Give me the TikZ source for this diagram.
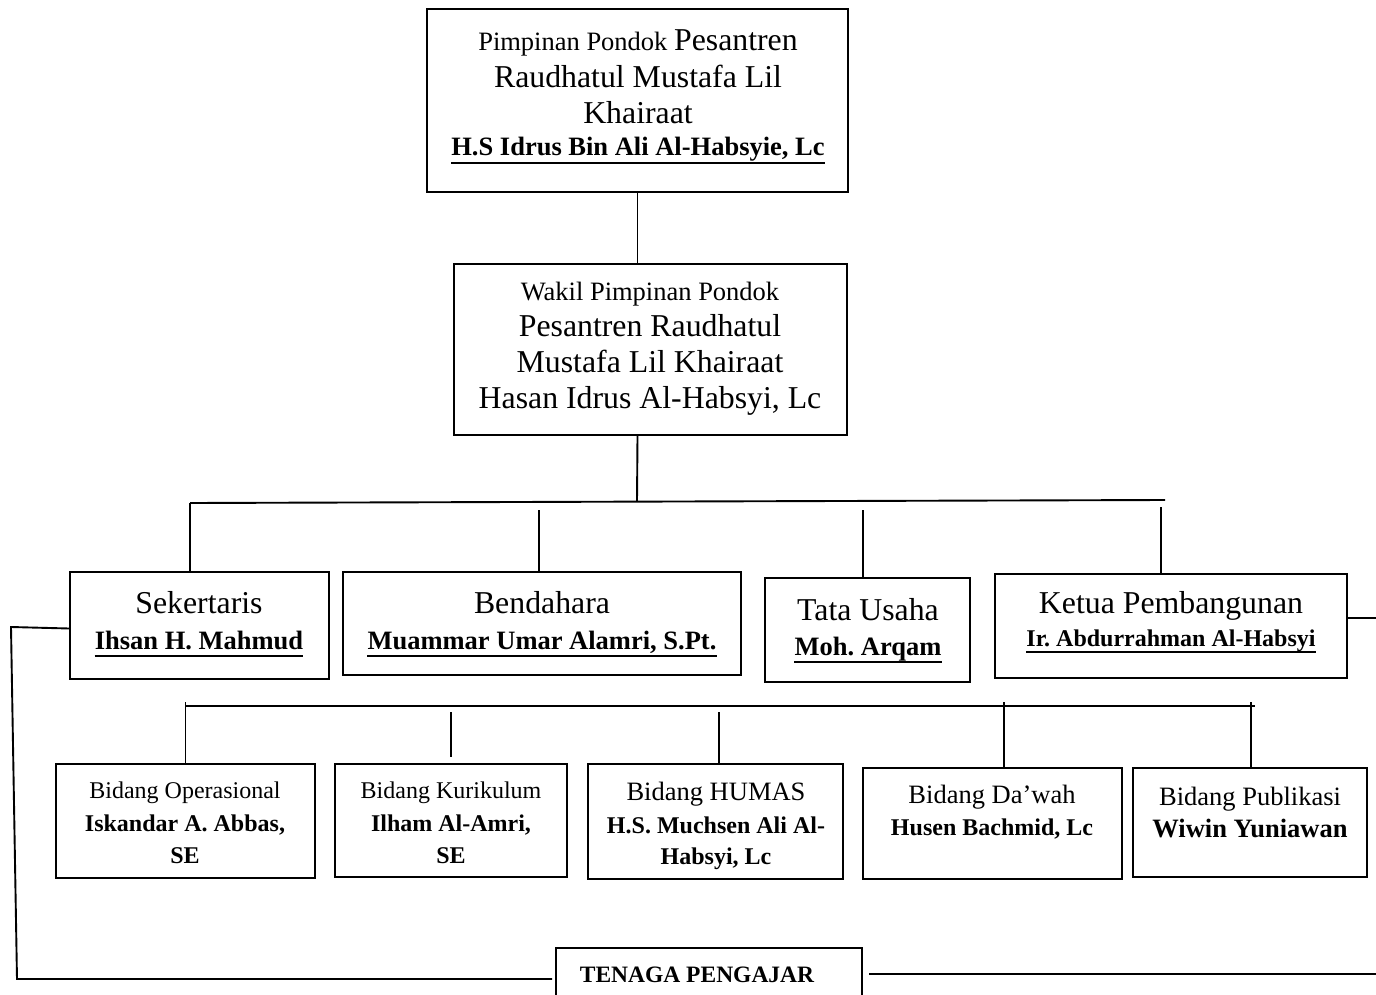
\documentclass[tikz,border=0pt]{standalone}
\usepackage{fontspec}
\setmainfont{Liberation Serif}
\frenchspacing
\newcommand\fsA{\fontsize{26.5}{30}\selectfont}
\newcommand\fsB{\fontsize{31.8}{36}\selectfont}
\newcommand\fsC{\fontsize{24}{28}\selectfont}
\newcommand\fsD{\fontsize{23.5}{28}\selectfont}
\begin{document}
\begin{tikzpicture}[x=1pt,y=-1pt,
  box/.style={draw, line width=2pt, inner sep=0pt},
  txt/.style={inner sep=0pt, anchor=base, align=center},
  conn/.style={line width=1.9pt},
  ulline/.style={line width=2.4pt}]
\clip (0,0) rectangle (1376,995);
\fill[white] (0,0) rectangle (1376,995);

% boxes
\node[box, minimum width=421, minimum height=183] (top) at (637.5,100.5) {};
\node[box, minimum width=393, minimum height=171] (wakil) at (650.5,349.5) {};
\node[box, minimum width=259, minimum height=107] (sek) at (199.5,625.5) {};
\node[box, minimum width=398, minimum height=103] (ben) at (542,623.5) {};
\node[box, minimum width=205, minimum height=104] (tata) at (867.5,630) {};
\node[box, minimum width=352, minimum height=104] (ketua) at (1171,626) {};
\node[box, minimum width=259, minimum height=114] (b1) at (185.5,821) {};
\node[box, minimum width=232, minimum height=113] (b2) at (451,820.5) {};
\node[box, minimum width=255, minimum height=115] (b3) at (715.5,821.5) {};
\node[box, minimum width=259, minimum height=111] (b4) at (992.5,823.5) {};
\node[box, minimum width=234, minimum height=109] (b5) at (1250,822.5) {};
\node[box, minimum width=306, minimum height=62] (tenaga) at (709,979) {};

% texts: top
\node[txt] (t1a) at (638,51) {\fsA Pimpinan Pondok \fsB Pesantren};
\node[txt] (t1b) at (638,88) {\fsB Raudhatul Mustafa Lil};
\node[txt] (t1c) at (638,124) {\fsB Khairaat};
\node[txt] (t1d) at (638,156) {\fsA\bfseries H.S Idrus Bin Ali Al-Habsyie, Lc};
\draw[ulline] ([yshift=-7pt]t1d.base west) -- ([yshift=-7pt]t1d.base east);

% wakil
\node[txt] (t2a) at (650,300) {\fsA Wakil Pimpinan Pondok};
\node[txt] (t2b) at (650,336) {\fsB Pesantren Raudhatul};
\node[txt] (t2c) at (650,372) {\fsB Mustafa Lil Khairaat};
\node[txt] (t2d) at (650,408) {\fsB Hasan Idrus Al-Habsyi, Lc};

% level 2
\node[txt] (t3a) at (199,613) {\fsB Sekertaris};
\node[txt] (t3b) at (199,649) {\fsA\bfseries Ihsan H. Mahmud};
\draw[ulline] ([yshift=-7pt]t3b.base west) -- ([yshift=-7pt]t3b.base east);
\node[txt] (t4a) at (542,613) {\fsB Bendahara};
\node[txt] (t4b) at (542,649) {\fsA\bfseries Muammar Umar Alamri, S.Pt.};
\draw[ulline] ([yshift=-7pt]t4b.base west) -- ([yshift=-7pt]t4b.base east);
\node[txt] (t5a) at (868,620) {\fsB Tata Usaha};
\node[txt] (t5b) at (868,655) {\fsA\bfseries Moh. Arqam};
\draw[ulline] ([yshift=-7pt]t5b.base west) -- ([yshift=-7pt]t5b.base east);
\node[txt] (t6a) at (1171,613) {\fsB Ketua Pembangunan};
\node[txt] (t6b) at (1171,646) {\fsC\bfseries Ir. Abdurrahman Al-Habsyi};
\draw[ulline] ([yshift=-6pt]t6b.base west) -- ([yshift=-6pt]t6b.base east);

% level 3
\node[txt] (t7a) at (185,798) {\fsC Bidang Operasional};
\node[txt] (t7b) at (185,831) {\fsC\bfseries Iskandar A. Abbas,};
\node[txt] (t7c) at (185,863) {\fsC\bfseries SE};
\node[txt] (t8a) at (451,798) {\fsC Bidang Kurikulum};
\node[txt] (t8b) at (451,831) {\fsC\bfseries Ilham Al-Amri,};
\node[txt] (t8c) at (451,863) {\fsC\bfseries SE};
\node[txt] (t9a) at (716,800) {\fsA Bidang HUMAS};
\node[txt] (t9b) at (716,833) {\fsC\bfseries H.S. Muchsen Ali Al-};
\node[txt] (t9c) at (716,864) {\fsC\bfseries Habsyi, Lc};
\node[txt] (t10a) at (992,803) {\fsA Bidang Da’wah};
\node[txt] (t10b) at (992,835) {\fsC\bfseries Husen Bachmid, Lc};
\node[txt] (t11a) at (1250,805) {\fsA Bidang Publikasi};
\node[txt] (t11b) at (1250,837) {\fsA\bfseries Wiwin Yuniawan};
\node[txt] (t12) at (697,982) {\fsD\bfseries TENAGA PENGAJAR};

% connectors
\draw[conn] (top.south) -- (top.south |- wakil.north);
\coordinate (bar1m) at (637,501.5);
\coordinate (bar1L) at (190,503);
\coordinate (bar1R) at (1165,500);
\draw[conn] (top.south |- wakil.south) -- (bar1m);
\draw[conn] (bar1L) -- (bar1R);
\draw[conn] (bar1L) -- (bar1L |- sek.north);
\coordinate (benT) at (539,510);
\draw[conn] (benT) -- (benT |- ben.north);
\coordinate (tataT) at (863,510);
\draw[conn] (tataT) -- (tataT |- tata.north);
\coordinate (ketT) at (1161,507);
\draw[conn] (ketT) -- (ketT |- ketua.north);

\coordinate (bar2L) at (185.5,706);
\coordinate (bar2R) at (1255,706);
\draw[conn] (bar2L) -- (bar2R);
\coordinate (b1T) at (185.5,702);
\draw[conn] (b1T) -- (b1T |- b1.north);
\coordinate (b2T) at (451,712);
\draw[conn] (b2T) -- ([yshift=6pt]b2.north);
\coordinate (b3T) at (719,712);
\draw[conn] (b3T) -- (b3T |- b3.north);
\coordinate (b4T) at (1004,702);
\draw[conn] (b4T) -- (b4T |- b4.north);
\coordinate (b5T) at (1251,702);
\draw[conn] (b5T) -- (b5T |- b5.north);

\coordinate (lc1) at (11,627);
\coordinate (lc2) at (17,979);
\draw[conn] ([yshift=-3pt]sek.west) -- (lc1) -- (lc2) -- ([xshift=-3pt]tenaga.west);
\coordinate (rr) at (1380,974);
\draw[conn] ([xshift=6pt,yshift=5pt]tenaga.east) -- (rr);
\coordinate (kr) at (1380,618);
\draw[conn] (ketua.east |- kr) -- (kr);
\end{tikzpicture}
\end{document}
